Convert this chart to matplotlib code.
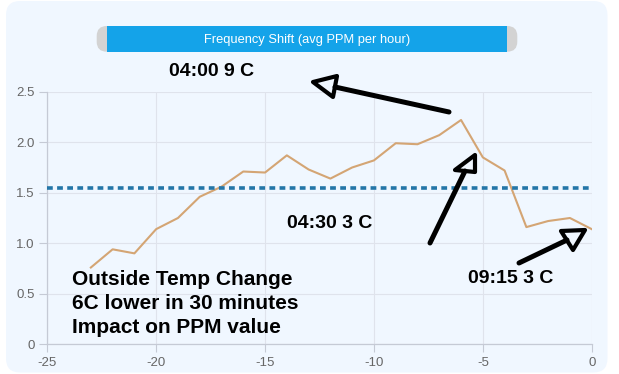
import matplotlib
matplotlib.use("Agg")
import matplotlib.pyplot as plt
from matplotlib.patches import FancyBboxPatch, Rectangle, Polygon

plt.rcParams["axes.unicode_minus"] = False

# ---- data ----
minutes = [-23, -22, -21, -20, -19, -18, -17, -16, -15, -14, -13, -12,
           -11, -10, -9, -8, -7, -6, -5, -4, -3, -2, -1, 0]
ppm_shift = [0.76, 0.94, 0.90, 1.14, 1.25, 1.46, 1.56, 1.71, 1.70, 1.87, 1.73, 1.64,
             1.75, 1.82, 1.99, 1.98, 2.07, 2.22, 1.85, 1.72, 1.16, 1.22, 1.25, 1.14]
average_ppm = 1.55
x_ticks = [-25, -20, -15, -10, -5, 0]
y_ticks = [0, 0.5, 1.0, 1.5, 2.0, 2.5]
y_tick_labels = ["0", "0.5", "1.0", "1.5", "2.0", "2.5"]
title = "Frequency Shift (avg PPM per hour)"
note_lines = ["Outside Temp Change", "6C lower in 30 minutes", "Impact on PPM value"]
time_labels = ["04:00 9 C", "04:30 3 C", "09:15 3 C"]

W, H = 619, 374
PANEL = "#f0f7ff"
fig = plt.figure(figsize=(W / 100, H / 100), dpi=100)
fig.patch.set_facecolor("white")

def fx(px):
    return px / W

def fy(py):
    return 1 - py / H

# main axes
left, right, top, bottom = 47.3, 591.7, 91.7, 344.3
ax = fig.add_axes([fx(left), fy(bottom), fx(right - left), (bottom - top) / H], zorder=2)
ax.set_facecolor("none")
ax.plot(minutes, ppm_shift, color="#d4a574", lw=1.5, zorder=3)
ax.axhline(average_ppm, color="#2476a8", lw=2.6, dashes=(1.6, 1.2), zorder=4)
ax.set_xlim(-25, 0)
ax.set_ylim(0, 2.5)
ax.set_xticks(x_ticks)
ax.set_yticks(y_ticks)
ax.set_yticklabels(y_tick_labels)
ax.grid(True, color="#dfe3ec", lw=0.8)
for s in ["top", "right"]:
    ax.spines[s].set_visible(False)
for s in ["left", "bottom"]:
    ax.spines[s].set_color("#c5cad5")
    ax.spines[s].set_linewidth(0.9)
ax.tick_params(axis="both", length=6, width=0.8, color="#c5cad5", labelcolor="#666666",
               labelsize=9.5, pad=3)
for lab in ax.get_xticklabels() + ax.get_yticklabels():
    lab.set_family("Liberation Sans")

# background axes in pixel coordinates for the panel
bg = fig.add_axes([0, 0, 1, 1], zorder=0)
bg.set_xlim(0, W)
bg.set_ylim(H, 0)
bg.axis("off")
bg.add_patch(FancyBboxPatch((6, 1), 601.5, 371.5, boxstyle="round,pad=0,rounding_size=14",
                            facecolor=PANEL, edgecolor="none"))

# overlay axes in pixel coordinates for decorations
ov = fig.add_axes([0, 0, 1, 1], zorder=5)
ov.set_xlim(0, W)
ov.set_ylim(H, 0)
ov.axis("off")
ov.patch.set_alpha(0)

# title bar
ov.add_patch(FancyBboxPatch((96.7, 26), 420.6, 25.7,
                            boxstyle="round,pad=0,rounding_size=10",
                            facecolor="#d3d3d3", edgecolor="none"))
ov.add_patch(Rectangle((107, 26), 399.7, 25.7, facecolor="#14a3e9", edgecolor="none"))
ov.text(307, 39.5, title, color="white", fontsize=9.3, family="Liberation Sans",
        ha="center", va="center")

# annotation texts
bold = dict(family="Liberation Sans", fontweight="bold", color="black", va="baseline")
ov.text(169, 75.7, time_labels[0], fontsize=14, **bold)
ov.text(287, 228, time_labels[1], fontsize=14, **bold)
ov.text(468, 283.3, time_labels[2], fontsize=14, **bold)
for line, base in zip(note_lines, [285, 309, 333]):
    ov.text(71.5, base, line, fontsize=15, **bold)

# hand-drawn arrows: tail, base midpoint, triangle
arrows = [
    ((449, 112), (335, 87), [(313, 82), (337, 76), (333, 97)]),
    ((430, 243), (465, 171), [(475, 155), (455, 170), (475, 172)]),
    ((519, 263), (567, 240), [(585, 230), (561, 231), (573, 250)]),
]
for tail, base, tri in arrows:
    ov.plot([tail[0], base[0]], [tail[1], base[1]], color="black", lw=3.6,
            solid_capstyle="round")
    ov.add_patch(Polygon(tri, closed=True, facecolor=PANEL, edgecolor="black", lw=3,
                         joinstyle="round"))

fig.savefig("out.png", dpi=100)
